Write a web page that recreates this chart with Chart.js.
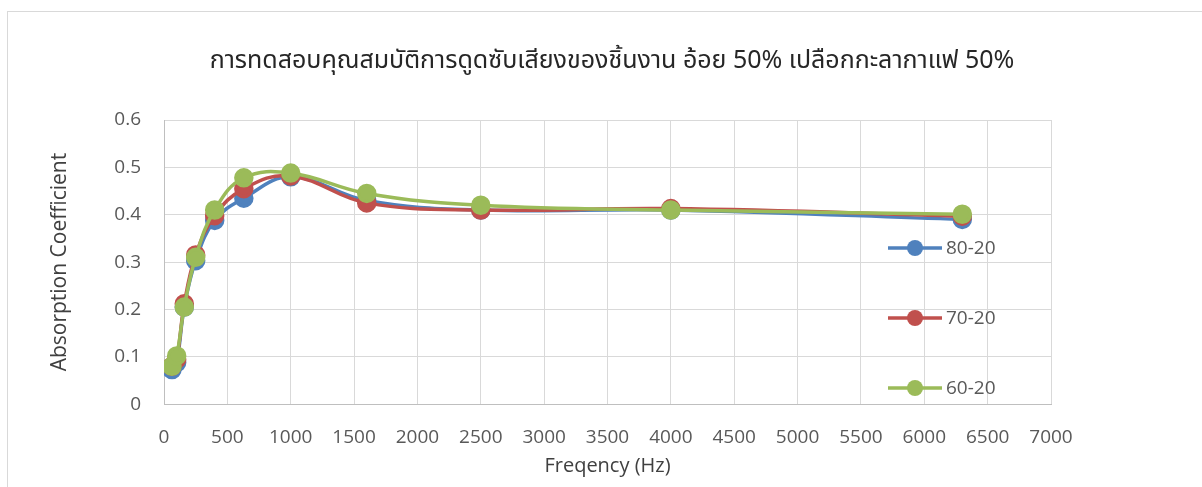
<!DOCTYPE html>
<html>
<head>
<meta charset="utf-8">
<script src="https://cdn.jsdelivr.net/npm/chart.js@4/dist/chart.umd.min.js"></script>
<style>
  html, body { margin: 0; padding: 0; background: #fff; }
  #wrap { width: 1202px; height: 487px; }
</style>
</head>
<body>
<div id="wrap"><canvas id="absChart" width="1202" height="487"></canvas></div>
<script>
// frequencies (Hz)
var freqs = [63, 100, 160, 250, 400, 630, 1000, 1600, 2500, 4000, 6300];

// absorption coefficients
var s8020 = [0.073, 0.088, 0.205, 0.303, 0.388, 0.435, 0.480, 0.430, 0.410, 0.410, 0.390];
var s7020 = [0.080, 0.095, 0.212, 0.315, 0.398, 0.455, 0.482, 0.425, 0.410, 0.413, 0.397];
var s6020 = [0.080, 0.102, 0.205, 0.310, 0.410, 0.478, 0.488, 0.445, 0.420, 0.410, 0.401];

var seriesNames = ["80-20", "70-20", "60-20"];
var seriesColors = ["#4F81BD", "#C0504D", "#9BBB59"];

var FONT = "'Open Sans', 'Noto Sans', sans-serif";

function pts(vals) {
  return freqs.map(function (f, i) { return { x: f, y: vals[i] }; });
}

function ds(i, vals) {
  return {
    label: seriesNames[i],
    data: pts(vals),
    borderColor: seriesColors[i],
    backgroundColor: seriesColors[i],
    pointBackgroundColor: seriesColors[i],
    pointBorderColor: seriesColors[i],
    borderWidth: 3.5,
    pointRadius: 8,
    tension: 0.4,
    fill: false,
    order: 2 - i
  };
}

// legend drawn inside plot area, like the original
var insideLegend = {
  id: "insideLegend",
  afterDatasetsDraw: function (chart) {
    var c = chart.ctx, a = chart.chartArea;
    var x0 = a.right - 163;
    var ys = [a.top + 128, a.top + 198, a.top + 268];
    c.save();
    seriesNames.forEach(function (name, i) {
      var y = ys[i];
      c.strokeStyle = seriesColors[i];
      c.lineWidth = 3.5;
      c.beginPath();
      c.moveTo(x0, y);
      c.lineTo(x0 + 54, y);
      c.stroke();
      c.fillStyle = seriesColors[i];
      c.beginPath();
      c.arc(x0 + 27, y, 8, 0, Math.PI * 2);
      c.fill();
      c.fillStyle = "#595959";
      c.font = "19px " + FONT;
      c.textBaseline = "middle";
      c.fillText(name, x0 + 58, y + 1);
    });
    c.restore();
  }
};

var frame = {
  id: "frame",
  beforeDraw: function (chart) {
    var c = chart.ctx;
    c.save();
    c.fillStyle = "#fff";
    c.fillRect(0, 0, chart.width, chart.height);
    c.strokeStyle = "#d9d9d9";
    c.lineWidth = 1;
    c.strokeRect(7.5, 11.5, chart.width + 10, chart.height + 10);
    c.restore();
  }
};

new Chart(document.getElementById("absChart"), {
  type: "line",
  data: {
    datasets: [ds(0, s8020), ds(1, s7020), ds(2, s6020)]
  },
  options: {
    responsive: false,
    animation: false,
    layout: { padding: { left: 22, right: 0, top: 0, bottom: 9 } },
    plugins: {
      legend: { display: false },
      tooltip: { enabled: false },
      title: {
        display: true,
        text: "การทดสอบคุณสมบัติการดูดซับเสียงของชิ้นงาน อ้อย 50% เปลือกกะลากาแฟ 50%",
        color: "#262626",
        font: { family: "'Noto Sans Thai', 'Noto Sans', sans-serif", size: 25, weight: "normal" },
        padding: { top: 48, bottom: 42 }
      }
    },
    scales: {
      x: {
        type: "linear",
        min: 0,
        max: 7000,
        ticks: {
          stepSize: 500, color: "#595959", font: { family: FONT, size: 19 }, maxRotation: 0, padding: 5,
          callback: function (v) { return String(v); }
        },
        grid: { color: "#d9d9d9", drawTicks: true, tickLength: 17, tickColor: "rgba(0,0,0,0)" },
        border: { color: "#bfbfbf" },
        title: { display: true, text: "Freqency (Hz)", color: "#404040", font: { family: FONT, size: 20 }, padding: { top: 0, bottom: 0 } }
      },
      y: {
        min: 0,
        max: 0.6,
        afterFit: function (s) { s.width = 142; },
        ticks: { stepSize: 0.1, color: "#595959", font: { family: FONT, size: 19 }, padding: 23 },
        grid: { color: "#d9d9d9", drawTicks: false },
        border: { color: "#bfbfbf" },
        title: { display: true, text: "Absorption Coefficient", color: "#404040", font: { family: FONT, size: 21 }, padding: { top: 25, bottom: 0 } }
      },
      spacer: {
        type: "linear",
        position: "right",
        afterFit: function (s) { s.width = 151; },
        ticks: { display: false },
        grid: { display: false },
        border: { display: false }
      }
    }
  },
  plugins: [frame, insideLegend]
});
</script>
</body>
</html>
